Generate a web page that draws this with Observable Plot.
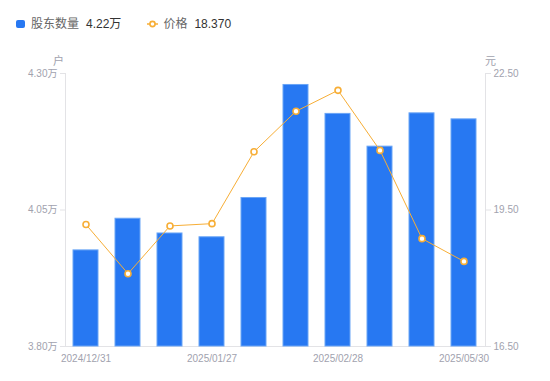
<!DOCTYPE html>
<html><head><meta charset="utf-8">
<script src="https://cdn.jsdelivr.net/npm/d3@7"></script>
<script src="https://cdn.jsdelivr.net/npm/@observablehq/plot@0.6"></script>
<style>
body{margin:0;background:#fff;font-family:"Liberation Sans",Arial,"Noto Sans CJK SC",sans-serif;}
#wrap{position:relative;width:550px;height:381px;overflow:hidden;}
#legend{position:absolute;top:16px;left:16px;font-size:12px;line-height:16px;white-space:nowrap;display:flex;align-items:center;}
#legend .sw{display:inline-block;width:9px;height:8px;border-radius:2px;background:#2778f2;margin-right:6px;}
#legend .lbl{color:#666;margin-right:7px;}
#legend .val{color:#333;}
#legend svg{margin-right:5px;}
#chart{position:absolute;left:0;top:0;}
</style></head><body>
<div id="wrap">
<div id="chart"></div>
<div id="legend"></div>
</div>
<script>
const dates = ["2024/12/31","2025/01/10","2025/01/20","2025/01/27","2025/02/10","2025/02/20","2025/02/28","2025/03/31","2025/04/30","2025/05/30"];
const holders = [3.976, 4.034, 4.007, 4.000, 4.072, 4.279, 4.226, 4.166, 4.227, 4.216];
const prices = [19.18, 18.10, 19.15, 19.20, 20.78, 21.67, 22.13, 20.81, 18.87, 18.37];
const leftTicks = [3.80, 4.05, 4.30];
const rightTicks = [16.50, 19.50, 22.50];
const xLabels = ["2024/12/31","2025/01/27","2025/02/28","2025/05/30"];
const seriesNames = ["股东数量","价格"];
const units = ["户","元"];

const yMin = 3.80, yMax = 4.30, pMin = 16.50, pMax = 22.50;
const toY = p => yMin + (p - pMin) * (yMax - yMin) / (pMax - pMin);
const fromY = y => pMin + (y - yMin) * (pMax - pMin) / (yMax - yMin);

const data = dates.map((d, i) => ({date: d, holders: holders[i], price: prices[i], py: toY(prices[i])}));

const BLUE = "#2778f2", ORANGE = "#f7ae36", GRID = "#e3e3e6", TXT = "#a1a2ae";

const chart = Plot.plot({
  width: 550, height: 381,
  marginTop: 73, marginBottom: 35, marginLeft: 65, marginRight: 65,
  style: {fontFamily: '"Liberation Sans", Arial, "Noto Sans CJK SC", sans-serif', fontSize: "10px", background: "transparent", overflow: "visible"},
  x: {type: "band", domain: dates, paddingInner: 0.4, paddingOuter: 0.2, axis: null},
  y: {domain: [yMin, yMax], axis: null},
  marks: [
    Plot.frame({anchor: "left", stroke: GRID}),
    Plot.frame({anchor: "right", stroke: GRID}),
    Plot.frame({anchor: "bottom", stroke: GRID}),
    Plot.axisY({anchor: "left", ticks: leftTicks, tickFormat: d => d.toFixed(2) + "万", tickSize: 5, tickPadding: 3, stroke: GRID, fill: TXT, label: null}),
    Plot.axisY({anchor: "right", ticks: rightTicks.map(toY), tickFormat: d => fromY(d).toFixed(2), tickSize: 5, tickPadding: 3, stroke: GRID, fill: TXT, label: null}),
    Plot.axisX({ticks: xLabels, tickSize: 0, tickPadding: 8, fill: TXT, label: null}),
    Plot.text([units[0]], {text: d => d, frameAnchor: "top-left", dx: -7, dy: -16, textAnchor: "middle", fill: TXT, fontSize: 11}),
    Plot.text([units[1]], {text: d => d, frameAnchor: "top-right", dx: 5, dy: -16, textAnchor: "middle", fill: TXT, fontSize: 11}),
    Plot.barY(data, {x: "date", y1: yMin, y2: "holders", fill: BLUE, stroke: "#6aa5f6", strokeWidth: 1}),
    Plot.line(data, {x: "date", y: "py", stroke: ORANGE, strokeWidth: 1}),
    Plot.dot(data, {x: "date", y: "py", r: 3, stroke: ORANGE, strokeWidth: 1.6, fill: "#fff"})
  ]
});
document.getElementById("chart").appendChild(chart);

const lg = document.getElementById("legend");
lg.innerHTML =
  `<span class="sw"></span><span class="lbl">${seriesNames[0]}</span><span class="val">${holders[holders.length-1].toFixed(2)}万</span>` +
  `<span style="display:inline-block;width:26px"></span>` +
  `<svg width="11" height="8" viewBox="0 0 11 8"><line x1="0" y1="4" x2="11" y2="4" stroke="${ORANGE}" stroke-width="1.5"/><circle cx="5.5" cy="4" r="2.6" fill="#fff" stroke="${ORANGE}" stroke-width="1.6"/></svg>` +
  `<span class="lbl">${seriesNames[1]}</span><span class="val">${prices[prices.length-1].toFixed(3)}</span>`;
</script>
</body></html>
